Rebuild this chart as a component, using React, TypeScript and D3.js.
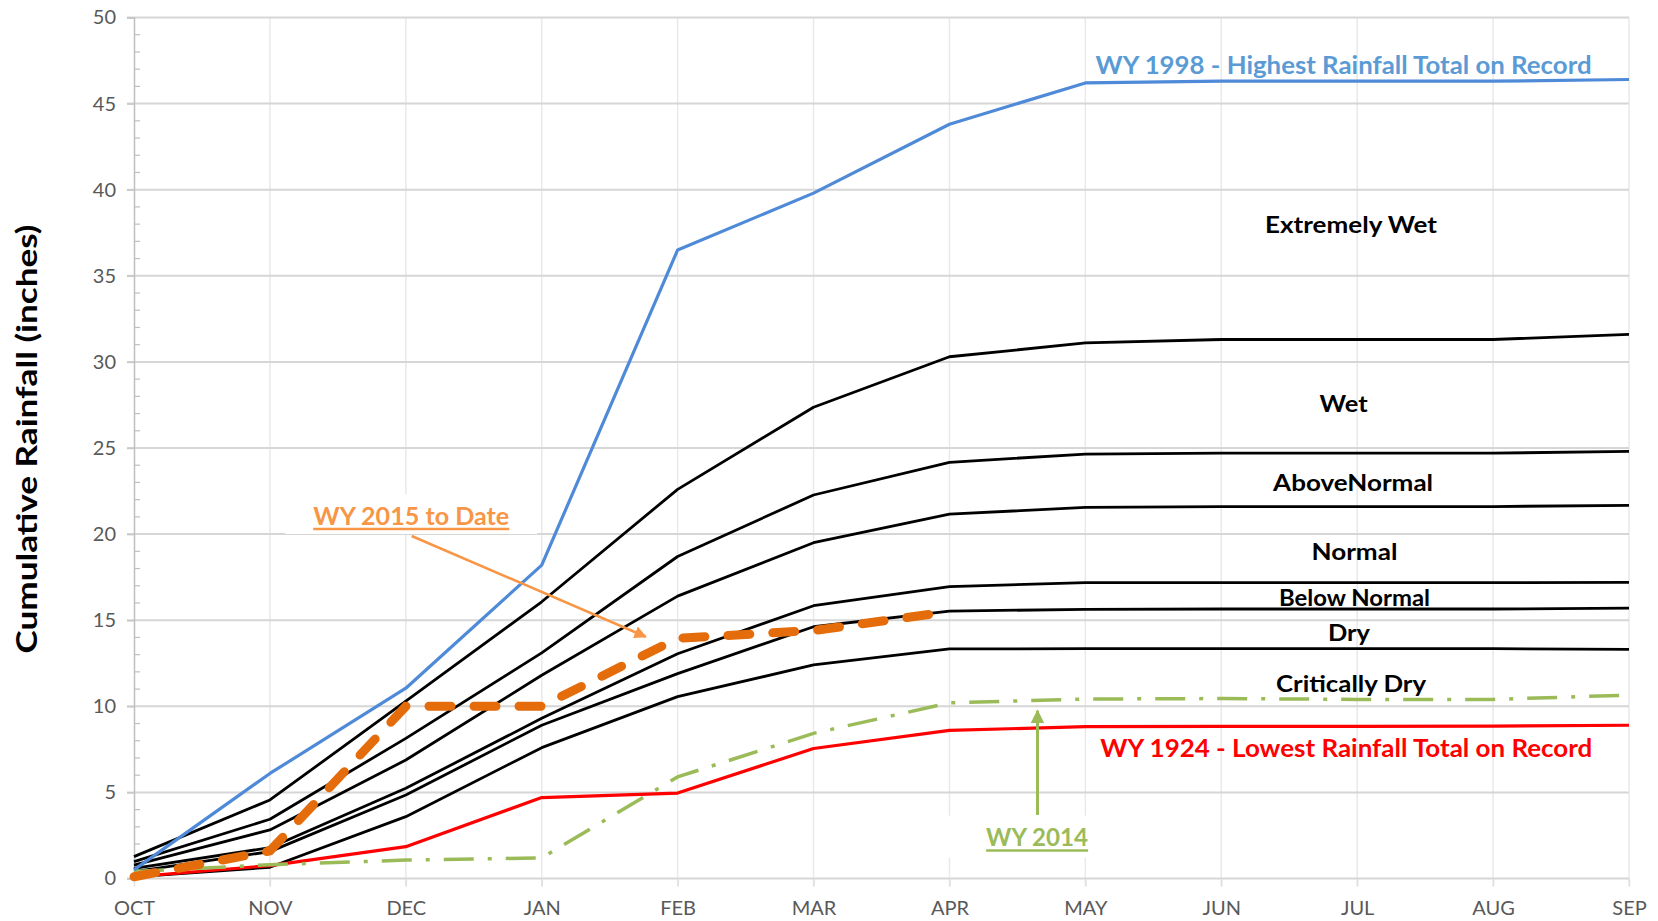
import React, { useEffect, useRef } from 'react';
import * as d3 from 'd3';

const months = ['OCT', 'NOV', 'DEC', 'JAN', 'FEB', 'MAR', 'APR', 'MAY', 'JUN', 'JUL', 'AUG', 'SEP'];
const yTicks = [0, 5, 10, 15, 20, 25, 30, 35, 40, 45, 50];

// year-type boundaries (black)
const extremelyWet = [1.27, 4.56, 10.3, 16.07, 22.6, 27.37, 30.3, 31.1, 31.3, 31.3, 31.3, 31.6];
const wet = [0.98, 3.44, 8.14, 13.1, 18.7, 22.27, 24.17, 24.65, 24.7, 24.7, 24.7, 24.8];
const aboveNormal = [0.78, 2.82, 6.88, 11.8, 16.4, 19.5, 21.16, 21.55, 21.6, 21.6, 21.6, 21.67];
const normal = [0.59, 1.79, 5.24, 9.3, 13.05, 15.84, 16.95, 17.18, 17.18, 17.18, 17.18, 17.2];
const belowNormal = [0.4, 1.56, 4.85, 8.9, 11.9, 14.62, 15.53, 15.63, 15.65, 15.65, 15.65, 15.7];
const dry = [0.1, 0.65, 3.59, 7.6, 10.56, 12.4, 13.33, 13.35, 13.35, 13.35, 13.35, 13.3];

const wy1998 = [0.5, 6.1, 11.05, 18.2, 36.5, 39.8, 43.8, 46.2, 46.3, 46.3, 46.3, 46.4];
const wy1924 = [0.1, 0.75, 1.85, 4.7, 4.96, 7.55, 8.6, 8.82, 8.83, 8.84, 8.85, 8.9];
const wy2014 = [0.4, 0.8, 1.07, 1.2, 5.9, 8.43, 10.2, 10.42, 10.45, 10.4, 10.4, 10.65];
const wy2015 = [0.1, 1.6, 10.0, 10.0, 13.95, 14.4, 15.5];

const boundaries = [extremelyWet, wet, aboveNormal, normal, belowNormal, dry];

const FONT = 'Lato, "Open Sans", sans-serif';

const App: React.FC = () => {
  const svgRef = useRef<SVGSVGElement | null>(null);

  useEffect(() => {
    if (!svgRef.current) return;
    const width = 1658;
    const height = 921;
    const left = 134, right = 1629, top = 17.5, bottom = 878.5;

    const svg = d3.select(svgRef.current).attr('width', width).attr('height', height);
    svg.selectAll('*').remove();

    const x = d3.scaleLinear().domain([0, 11]).range([left, right]);
    const y = d3.scaleLinear().domain([0, 50]).range([bottom, top]);

    const defs = svg.append('defs');
    defs.append('marker')
      .attr('id', 'arrow-orange')
      .attr('viewBox', '0 0 10 10')
      .attr('refX', 9).attr('refY', 5)
      .attr('markerWidth', 5).attr('markerHeight', 5)
      .attr('markerUnits', 'strokeWidth')
      .attr('orient', 'auto')
      .append('path').attr('d', 'M0,0 L10,5 L0,10 Z').attr('fill', '#f79646');
    defs.append('marker')
      .attr('id', 'arrow-green')
      .attr('viewBox', '0 0 10 10')
      .attr('refX', 9).attr('refY', 5)
      .attr('markerWidth', 4.5).attr('markerHeight', 4.5)
      .attr('markerUnits', 'strokeWidth')
      .attr('orient', 'auto')
      .append('path').attr('d', 'M0,0 L10,5 L0,10 Z').attr('fill', '#9bbb59');

    // vertical gridlines
    svg.append('g').selectAll('line')
      .data(months.slice(1))
      .enter().append('line')
      .attr('x1', (_, i) => x(i + 1)).attr('x2', (_, i) => x(i + 1))
      .attr('y1', top).attr('y2', bottom + 8)
      .attr('stroke', '#e9e9e9').attr('stroke-width', 1.5);

    // horizontal gridlines
    svg.append('g').selectAll('line')
      .data(yTicks)
      .enter().append('line')
      .attr('x1', left - 7).attr('x2', right)
      .attr('y1', d => y(d)).attr('y2', d => y(d))
      .attr('stroke', '#d6d6d6').attr('stroke-width', 2);

    // minor ticks
    svg.append('g').selectAll('line')
      .data(d3.range(0, 51).filter(v => v % 5 !== 0))
      .enter().append('line')
      .attr('x1', left).attr('x2', left + 6)
      .attr('y1', d => y(d)).attr('y2', d => y(d))
      .attr('stroke', '#bfbfbf').attr('stroke-width', 1.2);

    // y axis
    const yAxis = svg.append('g')
      .attr('transform', `translate(${left},0)`)
      .call(d3.axisLeft(y).tickValues(yTicks).tickSize(7).tickPadding(11));
    yAxis.select('.domain').attr('stroke', '#bfbfbf').attr('stroke-width', 1.5);
    yAxis.selectAll('.tick line').attr('stroke', '#c8c8c8').attr('stroke-width', 1.5);
    yAxis.selectAll('text').attr('fill', '#595959').attr('font-size', 20).attr('font-family', FONT);

    // x axis
    const xAxis = svg.append('g')
      .attr('transform', `translate(0,${bottom})`)
      .call(d3.axisBottom(x).tickValues(d3.range(12)).tickFormat((d: any) => months[d]).tickSize(8).tickPadding(14));
    xAxis.select('.domain').remove();
    xAxis.selectAll('.tick line').attr('stroke', '#e0e0e0').attr('stroke-width', 1.5);
    xAxis.selectAll('text').attr('fill', '#595959').attr('font-size', 20).attr('font-family', FONT);

    // label boxes (white, hide gridlines)
    svg.append('rect')
      .attr('x', x(2.04) - 126).attr('y', y(21.05) - 22).attr('width', 252).attr('height', 40)
      .attr('fill', '#fff');
    svg.append('rect')
      .attr('x', x(6.645) - 92).attr('y', y(2.38) - 22).attr('width', 184).attr('height', 42)
      .attr('fill', '#fff');

    const line = d3.line<number>().x((_, i) => x(i)).y(d => y(d));

    // boundaries
    svg.append('g').selectAll('path')
      .data(boundaries)
      .enter().append('path')
      .attr('d', d => line(d))
      .attr('fill', 'none').attr('stroke', '#000').attr('stroke-width', 2.8)
      .attr('stroke-linejoin', 'round');

    svg.append('path').attr('d', line(wy1924))
      .attr('fill', 'none').attr('stroke', '#ff0000').attr('stroke-width', 3.2).attr('stroke-linejoin', 'round');

    svg.append('path').attr('d', line(wy2014))
      .attr('fill', 'none').attr('stroke', '#9bbb59').attr('stroke-width', 3.5)
      .attr('stroke-dasharray', '30 14 4 14');

    svg.append('path').attr('d', line(wy1998))
      .attr('fill', 'none').attr('stroke', '#4e8ad8').attr('stroke-width', 3.2).attr('stroke-linejoin', 'round');

    svg.append('path').attr('d', line(wy2015))
      .attr('fill', 'none').attr('stroke', '#e46c0a').attr('stroke-width', 9)
      .attr('stroke-linecap', 'round').attr('stroke-dasharray', '22 23');

    // arrows
    svg.append('line')
      .attr('x1', x(2.043)).attr('y1', y(19.89)).attr('x2', x(3.765)).attr('y2', y(14.04))
      .attr('stroke', '#f79646').attr('stroke-width', 2.5).attr('marker-end', 'url(#arrow-orange)');
    svg.append('line')
      .attr('x1', x(6.648)).attr('y1', y(3.69)).attr('x2', x(6.648)).attr('y2', y(9.74))
      .attr('stroke', '#9bbb59').attr('stroke-width', 3).attr('marker-end', 'url(#arrow-green)');

    // category labels
    const cats: [string, number, number, number][] = [
      ['Extremely Wet', 8.955, 37.95, 172],
      ['Wet', 8.9, 27.6, 48],
      ['AboveNormal', 8.97, 23.0, 160],
      ['Normal', 8.98, 19.0, 86],
      ['Below Normal', 8.98, 16.3, 151],
      ['Dry', 8.94, 14.3, 42],
      ['Critically Dry', 8.955, 11.3, 150],
    ];
    svg.append('g').selectAll('text')
      .data(cats)
      .enter().append('text')
      .attr('x', d => x(d[1])).attr('y', d => y(d[2]))
      .attr('dy', '0.36em')
      .attr('text-anchor', 'middle')
      .attr('font-family', FONT).attr('font-weight', 'bold').attr('font-size', 23)
      .attr('textLength', d => d[3]).attr('lengthAdjust', 'spacingAndGlyphs')
      .attr('fill', '#000')
      .text(d => d[0]);

    svg.append('text')
      .attr('x', x(8.9)).attr('y', y(47.2)).attr('dy', '0.36em')
      .attr('text-anchor', 'middle').attr('font-family', FONT).attr('font-weight', 'bold')
      .attr('font-size', 24).attr('fill', '#5b9bd5')
      .attr('textLength', 496).attr('lengthAdjust', 'spacingAndGlyphs')
      .text('WY 1998 - Highest Rainfall Total on Record');

    svg.append('text')
      .attr('x', x(8.92)).attr('y', y(7.55)).attr('dy', '0.36em')
      .attr('text-anchor', 'middle').attr('font-family', FONT).attr('font-weight', 'bold')
      .attr('font-size', 24).attr('fill', '#ff0000')
      .attr('textLength', 492).attr('lengthAdjust', 'spacingAndGlyphs')
      .text('WY 1924 - Lowest Rainfall Total on Record');

    // underlined annotations
    const notes: [string, number, number, number, string][] = [
      ['WY 2015 to Date', 2.04, 21.05, 196, '#f79646'],
      ['WY 2014', 6.645, 2.38, 102, '#9bbb59'],
    ];
    notes.forEach(([label, xi, v, w, c]) => {
      svg.append('text')
        .attr('x', x(xi)).attr('y', y(v)).attr('dy', '0.36em')
        .attr('text-anchor', 'middle').attr('font-family', FONT).attr('font-weight', 'bold')
        .attr('font-size', 24).attr('fill', c)
        .attr('textLength', w).attr('lengthAdjust', 'spacingAndGlyphs')
        .text(label);
      svg.append('line')
        .attr('x1', x(xi) - w / 2).attr('x2', x(xi) + w / 2)
        .attr('y1', y(v) + 13).attr('y2', y(v) + 13)
        .attr('stroke', c).attr('stroke-width', 2.5);
    });

    // y axis title
    svg.append('text')
      .attr('transform', `translate(${26.4},${439}) rotate(-90)`)
      .attr('dy', '0.36em')
      .attr('text-anchor', 'middle').attr('font-family', FONT).attr('font-weight', 'bold')
      .attr('font-size', 29).attr('fill', '#000')
      .attr('textLength', 429).attr('lengthAdjust', 'spacingAndGlyphs')
      .text('Cumulative Rainfall (inches)');
  }, []);

  return (
    <div style={{ position: 'absolute', left: 0, top: 0, width: 1658, height: 921, background: '#fff' }}>
      <svg ref={svgRef} style={{ display: 'block' }} />
    </div>
  );
};

export default App;
